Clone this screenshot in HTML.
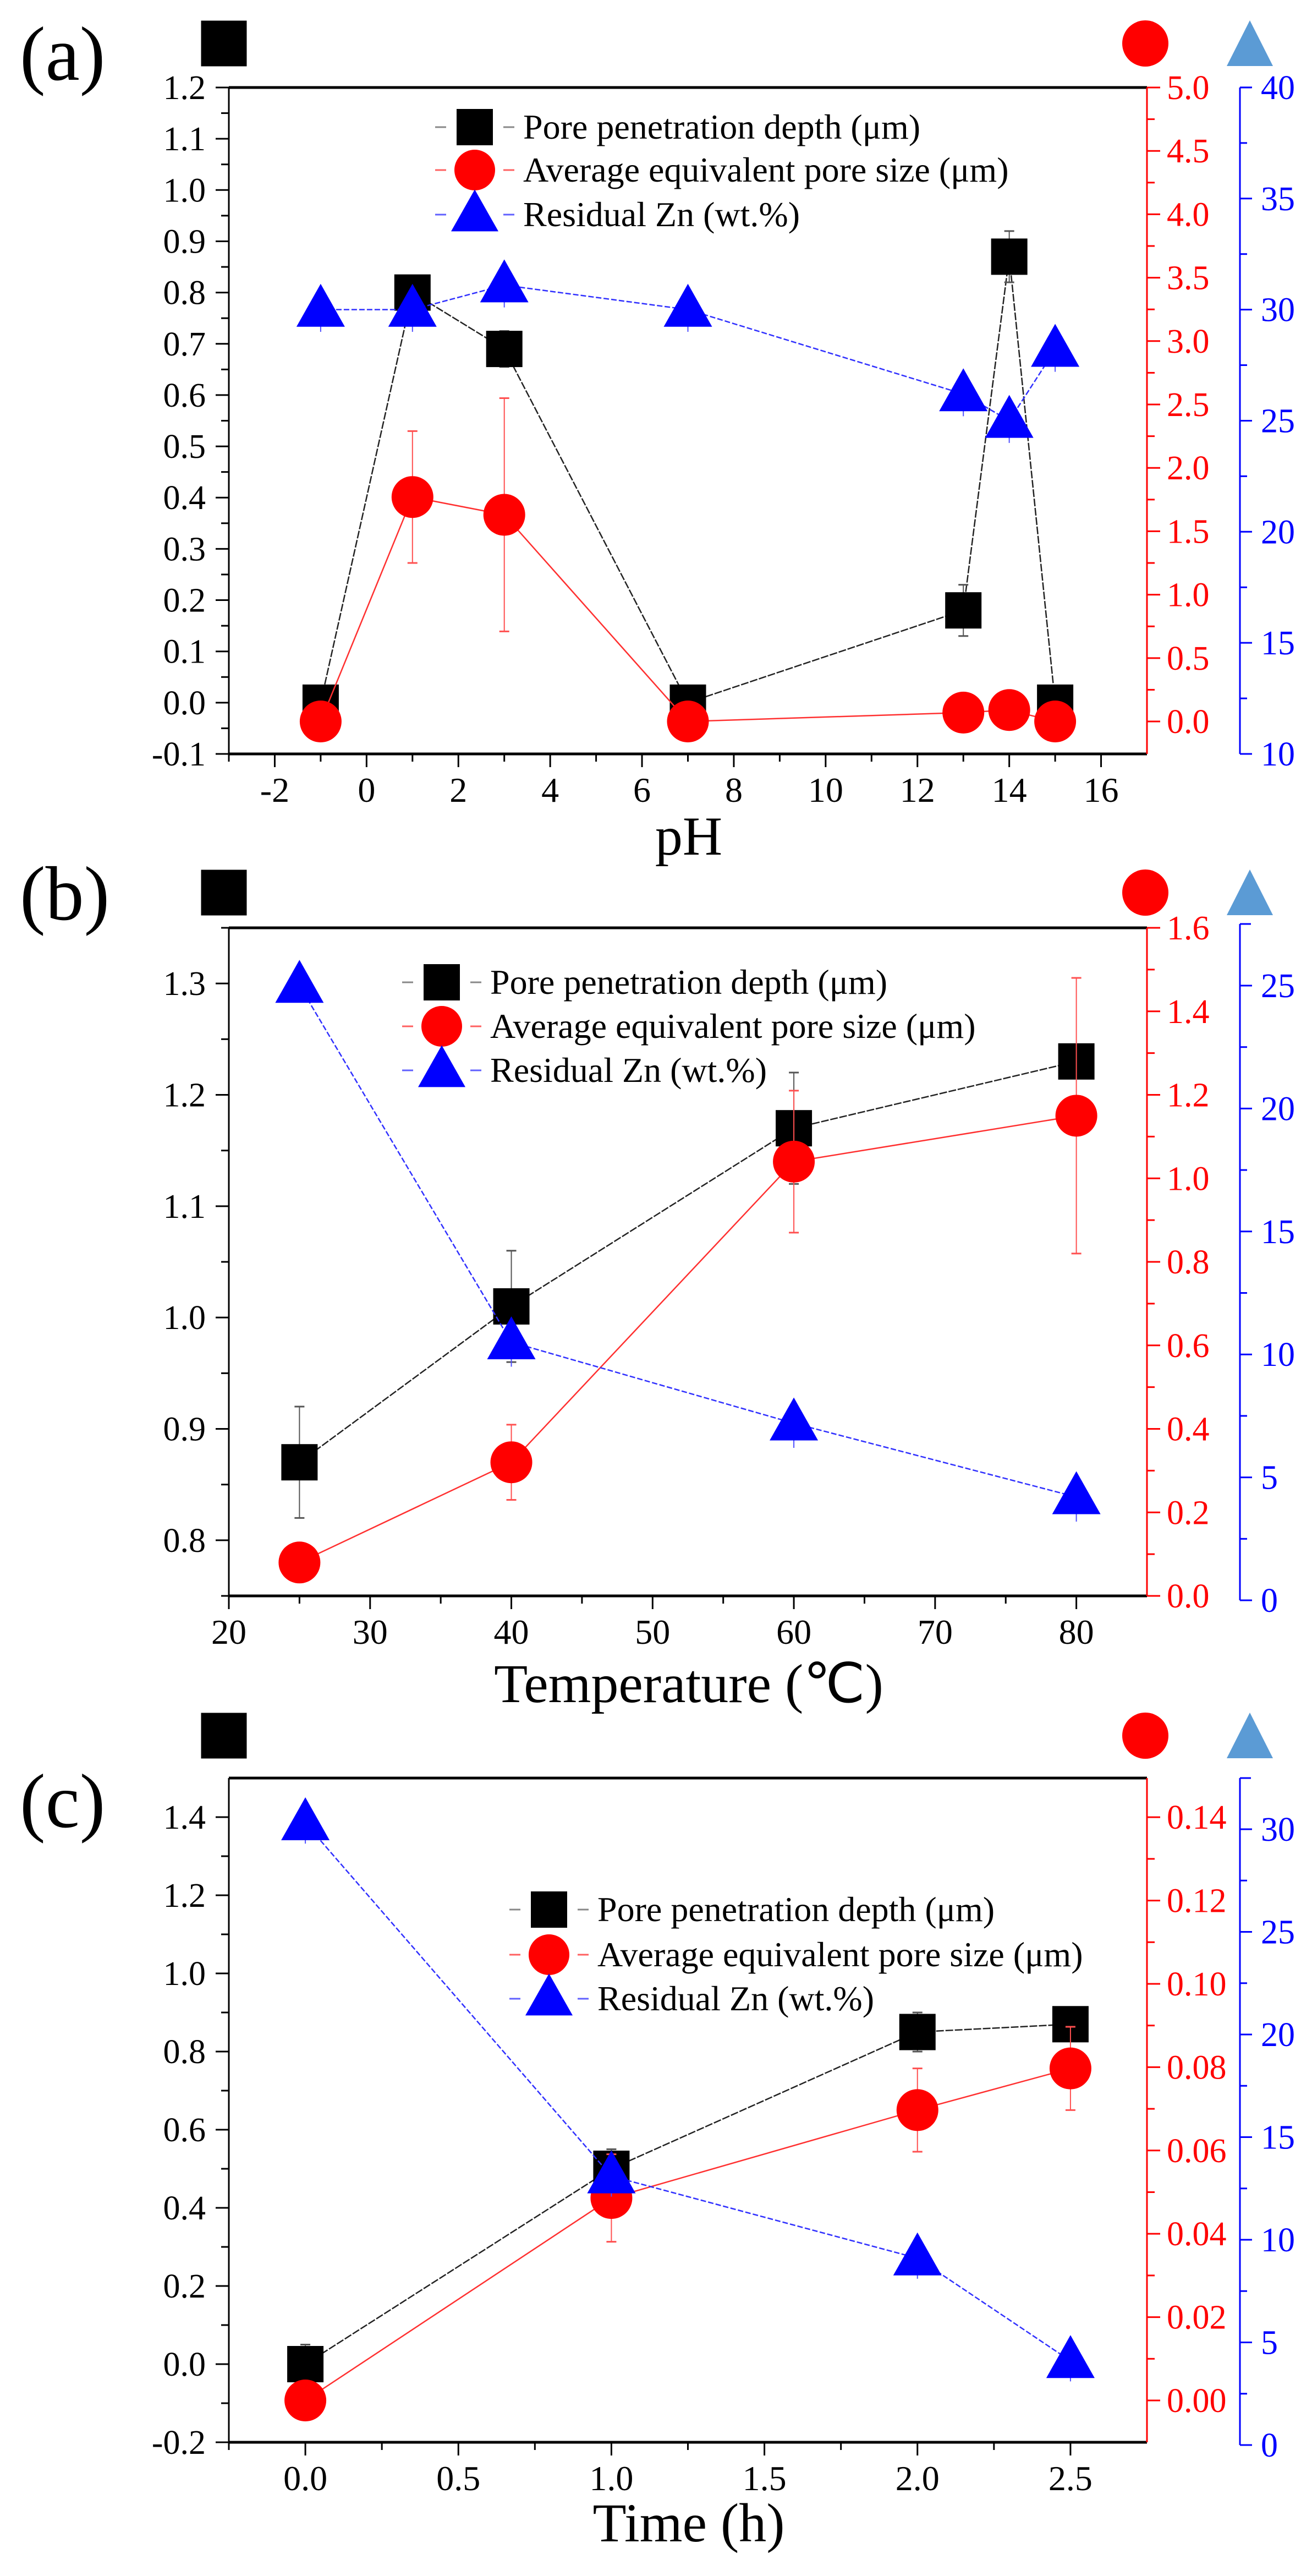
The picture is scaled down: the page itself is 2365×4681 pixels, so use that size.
<!DOCTYPE html>
<html><head><meta charset="utf-8">
<style>
html,body{margin:0;padding:0;background:#fff;}
svg{display:block;}
svg text{font-family:"Liberation Serif","Times New Roman",serif;}
</style></head>
<body>
<svg id="fig" width="2365" height="4681" viewBox="0 0 2365 4681" xmlns="http://www.w3.org/2000/svg" font-family="Liberation Serif, Times New Roman, serif">
<rect x="0" y="0" width="2365" height="4681" fill="#fff"/>
</svg>
<script>
// ---------- Panel (a) data ----------
const aX = [-1, 1, 3, 7, 13, 14, 15];
const aDepth = [0, 0.8, 0.69, 0, 0.18, 0.87, 0];
const aDepthErr = [0, 0.03, 0.035, 0, 0.05, 0.05, 0];
const aPore = [0, 1.77, 1.63, 0, 0.07, 0.09, 0];
const aPoreErr = [0, 0.52, 0.92, 0, 0, 0, 0];
const aZn = [30, 30, 31.1, 30, 26.2, 25.0, 28.2];
const aZnErr = [1, 1, 1, 1, 1, 1, 1];
const aXTicks = [-2, 0, 2, 4, 6, 8, 10, 12, 14, 16];
const aLeftTicks = [-0.1, 0, 0.1, 0.2, 0.3, 0.4, 0.5, 0.6, 0.7, 0.8, 0.9, 1.0, 1.1, 1.2];
const aRedTicks = [0, 0.5, 1.0, 1.5, 2.0, 2.5, 3.0, 3.5, 4.0, 4.5, 5.0];
const aBlueTicks = [10, 15, 20, 25, 30, 35, 40];

// ---------- Panel (b) data ----------
const bX = [25, 40, 60, 80];
const bDepth = [0.87, 1.01, 1.17, 1.23];
const bDepthErr = [0.05, 0.05, 0.05, 0.005];
const bPore = [0.08, 0.32, 1.04, 1.15];
const bPoreErr = [0, 0.09, 0.17, 0.33];
const bZn = [25, 10.5, 7.2, 4.2];
const bZnErr = [0, 1, 1, 1];
const bXTicks = [20, 30, 40, 50, 60, 70, 80];
const bLeftTicks = [0.8, 0.9, 1.0, 1.1, 1.2, 1.3];
const bRedTicks = [0, 0.2, 0.4, 0.6, 0.8, 1.0, 1.2, 1.4, 1.6];
const bBlueTicks = [0, 5, 10, 15, 20, 25];

// ---------- Panel (c) data ----------
const cX = [0, 1, 2, 2.5];
const cDepth = [0, 0.5, 0.85, 0.87];
const cDepthErr = [0.05, 0.05, 0.05, 0.04];
const cPore = [0, 0.0486, 0.0697, 0.0797];
const cPoreErr = [0, 0.0105, 0.01, 0.01];
const cZn = [30.3, 13.1, 9.1, 4.1];
const cZnErr = [1, 1, 1, 1];
const cXTicks = [0, 0.5, 1.0, 1.5, 2.0, 2.5];
const cLeftTicks = [-0.2, 0, 0.2, 0.4, 0.6, 0.8, 1.0, 1.2, 1.4];
const cRedTicks = [0, 0.02, 0.04, 0.06, 0.08, 0.10, 0.12, 0.14];
const cBlueTicks = [0, 5, 10, 15, 20, 25, 30];

const NS = "http://www.w3.org/2000/svg";
const svg = document.getElementById("fig");
function mk(tag, attrs, parent) {
  const e = document.createElementNS(NS, tag);
  for (const k in attrs) e.setAttribute(k, attrs[k]);
  (parent || svg).appendChild(e);
  return e;
}
function txt(s, x, y, size, fill, anchor, parent) {
  const t = mk("text", {x: x, y: y, "font-size": size, fill: fill, "text-anchor": anchor, "font-family": "Liberation Serif, Times New Roman, serif"}, parent);
  t.textContent = s;
  return t;
}
function lin(x1, y1, x2, y2, stroke, w, parent, dash) {
  const l = mk("line", {x1: x1, y1: y1, x2: x2, y2: y2, stroke: stroke, "stroke-width": w}, parent);
  if (dash) l.setAttribute("stroke-dasharray", dash);
  return l;
}
function square(cx, cy, s, fill, parent) {
  return mk("rect", {x: cx - s / 2, y: cy - s / 2, width: s, height: s, fill: fill}, parent);
}
function circ(cx, cy, r, fill, parent) {
  return mk("ellipse", {cx: cx, cy: cy, rx: r, ry: r, fill: fill}, parent);
}
function tri(cx, cy, w, h, fill, parent) {
  return mk("polygon", {points: (cx) + "," + (cy - h * 0.6) + " " + (cx - w / 2) + "," + (cy + h * 0.4) + " " + (cx + w / 2) + "," + (cy + h * 0.4), fill: fill}, parent);
}
function fmt(v, d) { return v.toFixed(d); }

function panel(cfg) {
  const g = mk("g", {});
  
  
  const L = 416, R = 2085, T = cfg.T, B = cfg.B;
  const xs = v => L + (v - cfg.xMin) / (cfg.xMax - cfg.xMin) * (R - L);
  const yl = v => B - (v - cfg.lMin) / (cfg.lMax - cfg.lMin) * (B - T);
  const yr = v => B - (v - cfg.rMin) / (cfg.rMax - cfg.rMin) * (B - T);
  const yb = v => cfg.bZero - v * cfg.bScale;

  const lab = txt(cfg.label, 36, cfg.labelY, 140, "#000", "start", g);
  
  

  const tsq = square(407, cfg.topY, 83, "#000", g);
  
  
  const tc = mk("ellipse", {cx: 2082, cy: cfg.topY, rx: 42, ry: 42, fill: "#ff0000"}, g);
  
  
  const tt = mk("polygon", {points: "2272," + (cfg.topY - 42) + " 2230," + (cfg.topY + 41) + " 2314," + (cfg.topY + 41), fill: "#5b9bd5"}, g);
  
  

  const fr = mk("g", {}, g);
  
  
  lin(L, T, R, T, "#000", 5, fr);
  lin(L, B, R, B, "#000", 5, fr);
  lin(L, T, L, B, "#000", 3, fr);
  lin(R, T, R, B, "#ff0000", 3, fr);

  const xa = mk("g", {}, g);
  
  
  cfg.xTicks.forEach((v, i) => {
    lin(xs(v), B, xs(v), B + 24, "#000", 3, xa);
    const t = txt(cfg.xFmt(v), xs(v), cfg.xLabY, 64, "#000", "middle", xa);
    
    
    if (i < cfg.xTicks.length - 1) {
      const m = (v + cfg.xTicks[i + 1]) / 2;
      lin(xs(m), B, xs(m), B + 14, "#000", 3, xa);
    }
  });
  if (cfg.xMinorStart !== undefined) lin(xs(cfg.xMinorStart), B, xs(cfg.xMinorStart), B + 14, "#000", 3, xa);
  const xt = txt(cfg.xTitle, 1252, cfg.xTitleY, 100, "#000", "middle", g);
  
  

  const la = mk("g", {}, g);
  
  
  cfg.lTicks.forEach((v, i) => {
    lin(L - 24, yl(v), L, yl(v), "#000", 3, la);
    const t = txt(fmt(v, 1), L - 42, yl(v) + 21, 62, "#000", "end", la);
    
    
    if (i < cfg.lTicks.length - 1) {
      const m = (v + cfg.lTicks[i + 1]) / 2;
      lin(L - 14, yl(m), L, yl(m), "#000", 3, la);
    }
  });
  if (cfg.lMinorExtra) cfg.lMinorExtra.forEach(m => lin(L - 14, yl(m), L, yl(m), "#000", 3, la));

  const ra = mk("g", {}, g);
  
  
  cfg.rTicks.forEach((v, i) => {
    lin(R, yr(v), R + 24, yr(v), "#ff0000", 3, ra);
    const t = txt(fmt(v, cfg.rDec), R + 36, yr(v) + 21, 62, "#ff0000", "start", ra);
    
    
    if (i < cfg.rTicks.length - 1) {
      const m = (v + cfg.rTicks[i + 1]) / 2;
      lin(R, yr(m), R + 14, yr(m), "#ff0000", 3, ra);
    }
  });

  const ba = mk("g", {}, g);
  
  
  const BX = 2254;
  lin(BX, cfg.bTop, BX, cfg.bBot, "#0000ff", 3, ba);
  lin(BX, cfg.bTop, BX + 20, cfg.bTop, "#0000ff", 3, ba);
  lin(BX, cfg.bBot, BX + 20, cfg.bBot, "#0000ff", 3, ba);
  cfg.bTicks.forEach((v, i) => {
    lin(BX, yb(v), BX + 22, yb(v), "#0000ff", 3, ba);
    const t = txt(String(v), BX + 38, yb(v) + 21, 62, "#0000ff", "start", ba);
    
    
    if (i < cfg.bTicks.length - 1) {
      const m = (v + cfg.bTicks[i + 1]) / 2;
      lin(BX, yb(m), BX + 13, yb(m), "#0000ff", 3, ba);
    }
  });

  const sBlack = mk("g", {}, g);
  
  
  const sRed = mk("g", {}, g);
  
  
  const sBlue = mk("g", {}, g);
  
  
  const X = cfg.x;
  for (let i = 0; i < X.length - 1; i++) {
    lin(xs(X[i]), yl(cfg.depth[i]), xs(X[i + 1]), yl(cfg.depth[i + 1]), "#222", 2.5, sBlack, "14 3");
    lin(xs(X[i]), yr(cfg.pore[i]), xs(X[i + 1]), yr(cfg.pore[i + 1]), "#ff3030", 2.5, sRed);
    lin(xs(X[i]), yb(cfg.zn[i]), xs(X[i + 1]), yb(cfg.zn[i + 1]), "#3030ff", 2.5, sBlue, "10 4");
  }
  function ebar(x, y1, y2, col, par) {
    lin(x, y1, x, y2, col, 2, par);
    lin(x - 9, y1, x + 9, y1, col, 3, par);
    lin(x - 9, y2, x + 9, y2, col, 3, par);
  }
  X.forEach((xv, i) => {
    if (cfg.depthErr[i] > 0) ebar(xs(xv), yl(cfg.depth[i] + cfg.depthErr[i]), yl(cfg.depth[i] - cfg.depthErr[i]), "#555", sBlack);
    if (cfg.poreErr[i] > 0) ebar(xs(xv), yr(cfg.pore[i] + cfg.poreErr[i]), yr(cfg.pore[i] - cfg.poreErr[i]), "#ff5050", sRed);
    if (cfg.znErr[i] > 0) lin(xs(xv), yb(cfg.zn[i] + cfg.znErr[i]), xs(xv), yb(cfg.zn[i] - cfg.znErr[i]), "#5050ff", 2, sBlue);
  });
  X.forEach((xv, i) => {
    const m = square(xs(xv), yl(cfg.depth[i]), 66, "#000", sBlack);
    
    
  });
  X.forEach((xv, i) => {
    const m = circ(xs(xv), yr(cfg.pore[i]), 38, "#ff0000", sRed);
    
    
  });
  X.forEach((xv, i) => {
    const m = tri(xs(xv), yb(cfg.zn[i]), 88, 78, "#0000ff", sBlue);
    
    
  });

  const lg = mk("g", {}, g);
  
  
  const names = ["Pore penetration depth (μm)", "Average equivalent pore size (μm)", "Residual Zn (wt.%)"];
  const cols = ["#888", "#ff6060", "#6060ff"];
  cfg.legY.forEach((ly, k) => {
    const e = mk("g", {}, lg);
    
    
    lin(cfg.legX - 72, ly, cfg.legX - 52, ly, cols[k], 3, e);
    lin(cfg.legX + 52, ly, cfg.legX + 72, ly, cols[k], 3, e);
    if (k === 0) square(cfg.legX, ly, 66, "#000", e);
    if (k === 1) circ(cfg.legX, ly, 37, "#ff0000", e);
    if (k === 2) tri(cfg.legX, ly, 86, 76, "#0000ff", e);
    txt(names[k], cfg.legX + 88, ly + 21, 64, "#000", "start", e);
  });
}

panel({
  name: "panel-a-ph", label: "(a)", labelY: 145, topY: 79,
  T: 159, B: 1370, xMin: -3, xMax: 17, lMin: -0.1, lMax: 1.2, rMin: -0.256, rMax: 5,
  bZero: 1370 + 10 * 40.37, bScale: 40.37, bTop: 159, bBot: 1370,
  x: aX, depth: aDepth, depthErr: aDepthErr, pore: aPore, poreErr: aPoreErr, zn: aZn, znErr: aZnErr,
  xTicks: aXTicks, lTicks: aLeftTicks, rTicks: aRedTicks, rDec: 1, bTicks: aBlueTicks,
  xFmt: v => String(v), xLabY: 1457, xTitle: "pH", xTitleY: 1553, xMinorStart: -3,
  legX: 863, legY: [231, 309, 390]
});
panel({
  name: "panel-b-temperature", label: "(b)", labelY: 1671, topY: 1622,
  T: 1686, B: 2900, xMin: 20, xMax: 85, lMin: 0.75, lMax: 1.35, rMin: 0, rMax: 1.6,
  bZero: 2908, bScale: 44.68, bTop: 1679, bBot: 2908,
  x: bX, depth: bDepth, depthErr: bDepthErr, pore: bPore, poreErr: bPoreErr, zn: bZn, znErr: bZnErr,
  xTicks: bXTicks, lTicks: bLeftTicks, rTicks: bRedTicks, rDec: 1, bTicks: bBlueTicks,
  xFmt: v => String(v), xLabY: 2987, xTitle: "Temperature (℃)", xTitleY: 3093,
  lMinorExtra: [0.75, 1.35],
  legX: 803, legY: [1785, 1865, 1945]
});
panel({
  name: "panel-c-time", label: "(c)", labelY: 3320, topY: 3154,
  T: 3231, B: 4438, xMin: -0.25, xMax: 2.75, lMin: -0.2, lMax: 1.5, rMin: -0.01004, rMax: 0.1494,
  bZero: 4443, bScale: 37.3, bTop: 3231, bBot: 4443,
  x: cX, depth: cDepth, depthErr: cDepthErr, pore: cPore, poreErr: cPoreErr, zn: cZn, znErr: cZnErr,
  xTicks: cXTicks, lTicks: cLeftTicks, rTicks: cRedTicks, rDec: 2, bTicks: cBlueTicks,
  xFmt: v => v.toFixed(1), xLabY: 4525, xTitle: "Time (h)", xTitleY: 4618, xMinorStart: -0.25,
  legX: 998, legY: [3470, 3552, 3632]
});
</script>
</body></html>
